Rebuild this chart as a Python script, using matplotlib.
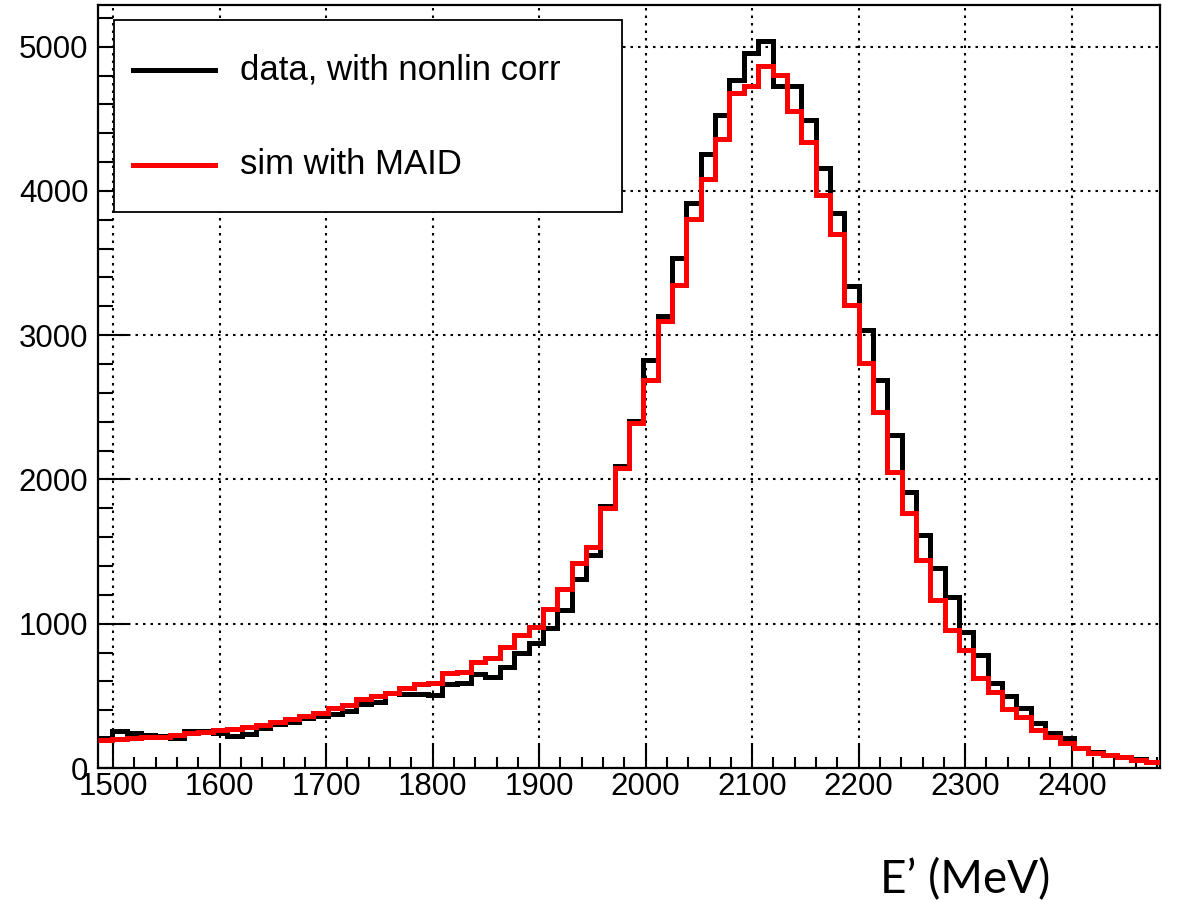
import numpy as np
import matplotlib
matplotlib.use("Agg")
import matplotlib.pyplot as plt
from matplotlib.patches import Rectangle
from matplotlib.lines import Line2D
from matplotlib.ticker import MultipleLocator

# ---- data ----
bin_lo, bin_hi, n_bins = 1485.8, 2482.9, 74
edges = np.linspace(bin_lo, bin_hi, n_bins + 1)

data_counts = [210, 255, 245, 228, 220, 208, 255, 255, 240, 225, 235, 275, 305, 318, 345, 358, 376,
               398, 444, 460, 520, 511, 513, 506, 582, 592, 652,
               633, 703, 800, 869, 973, 1096, 1308, 1477, 1815, 2090, 2406, 2829,
               3135, 3535, 3916, 4258, 4528, 4766, 4956, 5037, 4725,
               4725, 4494, 4159, 3847, 3343,
               3037, 2691, 2309, 1916, 1616, 1385, 1188, 945, 784, 587, 499, 414, 314, 240, 206,
               140, 110, 90, 75, 60, 40]
sim_counts = [195, 203, 208, 212, 218, 226, 240, 252, 260, 270, 283, 298, 320, 343, 362, 382, 414,
              437, 476, 499, 522, 553, 580, 587, 657, 664, 737,
              760, 837, 922, 980, 1100, 1239, 1419, 1530, 1801, 2078, 2390, 2691,
              3095, 3345, 3805, 4085, 4360, 4679, 4725, 4864, 4806,
              4551, 4337, 3974, 3701, 3211,
              2806, 2471, 2055, 1766, 1442, 1165, 957, 818, 626, 529, 407, 356, 264, 217, 171,
              137, 106, 90, 78, 55, 44]
labels = ["data, with nonlin corr", "sim with MAID"]
colors = ["black", "#ff0000"]
x_ticks = [1500, 1600, 1700, 1800, 1900, 2000, 2100, 2200, 2300, 2400]
y_ticks = [0, 1000, 2000, 3000, 4000, 5000]
y_max = 1.05 * max(data_counts)
xlabel = "E\u2019 (MeV)"

W, H = 1177, 900
plt.rcParams['font.family'] = ['Liberation Sans', 'DejaVu Sans']
fig = plt.figure(figsize=(W / 100, H / 100), dpi=100)

def fx(x):
    return x / W

def fy(y):
    return 1 - y / H

ax = fig.add_axes([fx(98), fy(768), fx(1160) - fx(98), fy(5) - fy(768)])

ax.stairs(data_counts, edges, baseline=None, color=colors[0], lw=3.6, zorder=3)
ax.stairs(sim_counts, edges, baseline=None, color=colors[1], lw=3.6, zorder=4)

ax.set_xlim(bin_lo, bin_hi)
ax.set_ylim(0, y_max)
ax.set_xticks(x_ticks)
ax.set_yticks(y_ticks)
ax.xaxis.set_minor_locator(MultipleLocator(20))
ax.yaxis.set_minor_locator(MultipleLocator(200))

ax.grid(True, which='major', color='black', lw=1.5, linestyle=(0, (1.2, 2.4)), zorder=1)
ax.set_axisbelow(True)

ax.tick_params(axis='both', which='both', direction='in', top=False, right=False,
               labelsize=22.5, width=1.5, color='black')
ax.tick_params(axis='x', which='major', length=18, pad=3)
ax.tick_params(axis='x', which='minor', length=8)
ax.tick_params(axis='y', which='major', length=21.6, pad=7)
ax.tick_params(axis='y', which='minor', length=10.8)
for s in ax.spines.values():
    s.set_linewidth(1.6)

# legend box (ROOT style)
fig.add_artist(Rectangle((fx(114), fy(212)), fx(622) - fx(114), fy(20) - fy(212),
                         transform=fig.transFigure, facecolor='white', edgecolor='black',
                         lw=1.3, zorder=10))
for i, (lab, col) in enumerate(zip(labels, colors)):
    yy = 70 + 95 * i
    fig.add_artist(Line2D([fx(133), fx(215)], [fy(yy), fy(yy)], transform=fig.transFigure,
                          color=col, lw=3.6, zorder=11))
    fig.text(fx(240), fy(yy), lab, fontsize=25, va='center', ha='left', zorder=11)

fig.text(fx(965), fy(880), xlabel, fontsize=33, ha='center', va='center',
         family=['Lato', 'DejaVu Sans'])

fig.savefig("out.png", dpi=100)
